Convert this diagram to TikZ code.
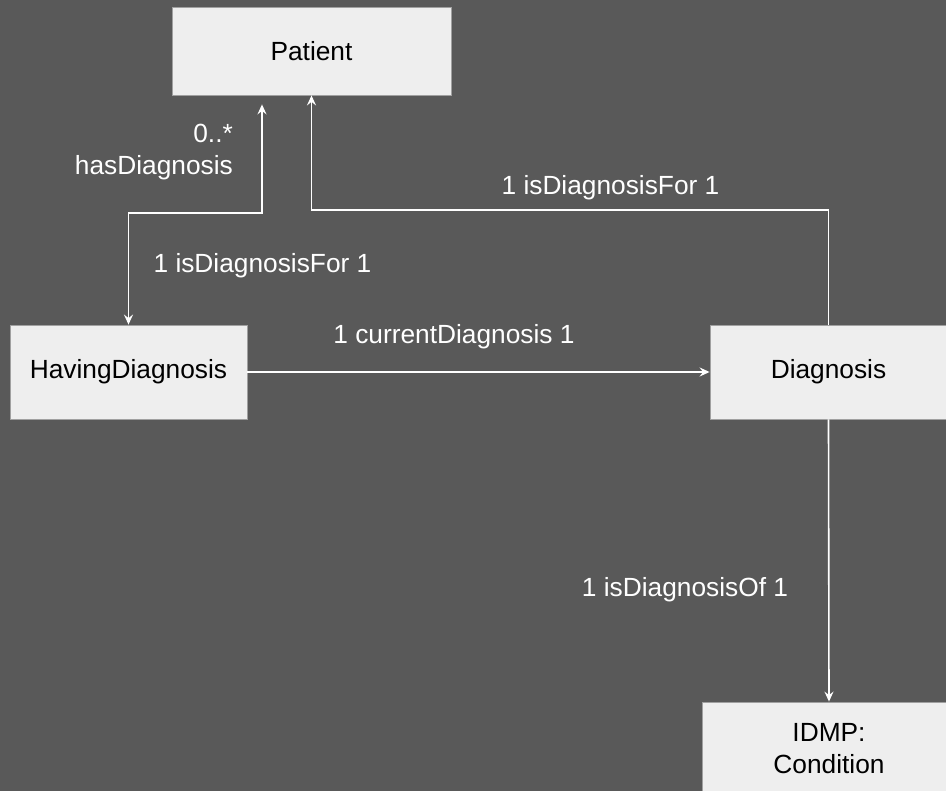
\documentclass[tikz,border=0pt]{standalone}
\usepackage{fontspec}
\setmainfont{Liberation Sans}
\usetikzlibrary{arrows.meta}
\definecolor{bgc}{HTML}{595959}
\definecolor{boxc}{HTML}{EEEEEE}
\definecolor{boxline}{HTML}{A0A0A0}
\tikzset{
  umlbox/.style={draw=boxline, line width=0.8pt, fill=boxc, text=black, inner sep=0pt,
    font=\fontsize{26.3}{32}\selectfont, align=center},
  conn/.style={draw=white, line width=1.6pt},
  tipA/.tip={Stealth[length=10pt,width=9pt,inset=3.5pt]},
  lbl/.style={text=white, inner sep=0pt, font=\fontsize{26.3}{32}\selectfont}
}
\begin{document}
\begin{tikzpicture}[x=1pt,y=-1pt]
\fill[bgc] (0,0) rectangle (946,791);
\useasboundingbox (0,0) rectangle (946,791);
\node[umlbox, minimum width=279pt, minimum height=88pt] (P) at (311.5,51) {Patient};
\node[umlbox, minimum width=237pt, minimum height=94pt] (HD) at (128.5,372) {HavingDiagnosis};
\node[umlbox, minimum width=237pt, minimum height=94pt] (D) at (828.5,372) {Diagnosis};
\node[umlbox, minimum width=254pt, minimum height=94pt] (C) at (829,749) {IDMP:\\Condition};
\coordinate (j1) at (128.5,213);
\coordinate (j2) at (311.5,210);
\draw[conn, tipA-tipA] ([xshift=-49.5pt,yshift=-9pt]P.south) |- (j1) -- (HD.north);
\draw[conn, -tipA] (D.north) |- (j2) -- (P.south);
\draw[conn, -tipA] (HD.east) -- (D.west);
\draw[conn, -tipA] (D.south) -- (C.north);
\node[lbl, anchor=base east] (m1) at (233,143) {0..*};
\node[lbl, anchor=base east] (m2) at (233,175) {hasDiagnosis};
\node[lbl, anchor=base] (l1) at (262.5,272.5) {1 isDiagnosisFor 1};
\node[lbl, anchor=base] (l2) at (610.5,194.5) {1 isDiagnosisFor 1};
\node[lbl, anchor=base] (l3) at (454,344) {1 currentDiagnosis 1};
\node[lbl, anchor=base] (l4) at (685,596.5) {1 isDiagnosisOf 1};
\end{tikzpicture}
\end{document}
